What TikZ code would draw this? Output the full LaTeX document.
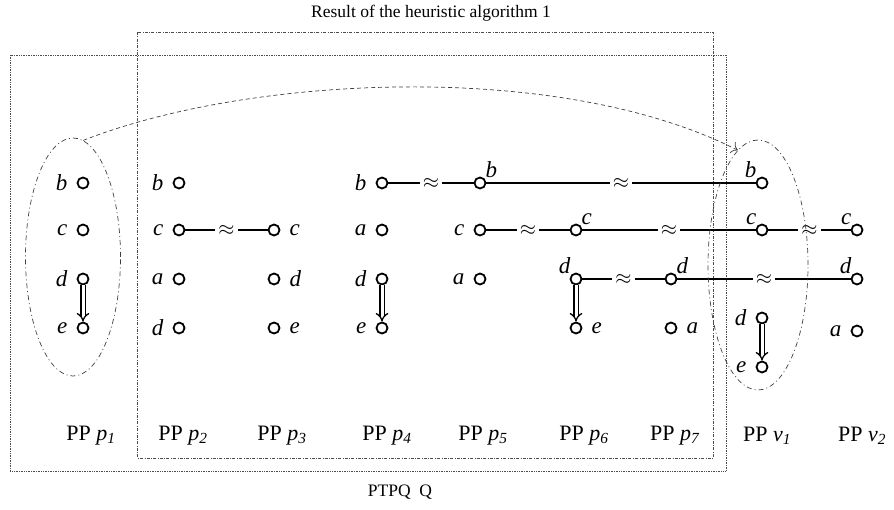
\documentclass[tikz,border=0pt]{standalone}
\usepackage{fontspec}
\setmainfont{Liberation Serif}
\usetikzlibrary{arrows.meta,positioning,shapes.geometric}

\begin{document}
\begin{tikzpicture}[x=1pt, y=-1pt,
        pt/.style={circle, draw, line width=1.8pt, minimum size=11pt, inner sep=0pt},
        lbl/.style={font=\fontsize{23}{25}\selectfont\itshape, inner sep=1pt},
        lt/.style={label={[lbl, label distance=8pt]left:#1}},
        rt/.style={label={[lbl, label distance=8pt]right:#1}},
        al/.style={label={[lbl, label distance=0pt]above left:#1}},
        ar/.style={label={[lbl, label distance=0pt]above right:#1}},
        link/.style={line width=1.4pt},
        apx/.style={fill=white, inner sep=3pt, font=\fontsize{21}{23}\selectfont},
        dbl/.style={double, double distance=3pt, line width=1.3pt, -{Implies}},
        pp/.style={font=\fontsize{22}{24}\selectfont},
        grp/.style={ellipse, draw, line width=0.7pt, black!75, dash pattern=on 5pt off 3pt on 1pt off 3pt},
        box/.style={line width=0.7pt, black!70}
    ]
    \useasboundingbox (0,0) rectangle (894,510);

    % Rahmen
    \draw[box, densely dotted] (10,55) rectangle (726,471);
    \draw[box, dash pattern=on 3pt off 1.5pt on 0.6pt off 1.5pt] (137,32) rectangle (713,458);
    \node[font=\fontsize{17.5}{19}\selectfont] (title) at (431,13) {Result of the heuristic algorithm 1};
    \node[font=\fontsize{17.5}{19}\selectfont] (ptpq) at (400,492) {PTPQ\ \ Q};

    % PP p1
    \node[pt, lt=b] (p1b) at (83,183) {};
    \node[pt, lt=c] (p1c) at (83,230) {};
    \node[pt, lt=d] (p1d) at (83,279) {};
    \node[pt, lt=e] (p1e) at (83,328) {};
    % PP p2
    \node[pt, lt=b] (p2b) at (179,183) {};
    \node[pt, lt=c] (p2c) at (179,230) {};
    \node[pt, lt=a] (p2a) at (179,279) {};
    \node[pt, lt=d] (p2d) at (179,328) {};
    % PP p3
    \node[pt, rt=c] (p3c) at (274,230) {};
    \node[pt, rt=d] (p3d) at (274,279) {};
    \node[pt, rt=e] (p3e) at (274,328) {};
    % PP p4
    \node[pt, lt=b] (p4b) at (382,183) {};
    \node[pt, lt=a] (p4a) at (382,230) {};
    \node[pt, lt=d] (p4d) at (382,279) {};
    \node[pt, lt=e] (p4e) at (382,328) {};
    % PP p5
    \node[pt, ar=b] (p5b) at (480,183) {};
    \node[pt, lt=c] (p5c) at (480,230) {};
    \node[pt, lt=a] (p5a) at (480,279) {};
    % PP p6
    \node[pt, ar=c] (p6c) at (576,230) {};
    \node[pt, al=d] (p6d) at (576,279) {};
    \node[pt, rt=e] (p6e) at (576,328) {};
    % PP p7
    \node[pt, ar=d] (p7d) at (671,279) {};
    \node[pt, rt=a] (p7a) at (671,328) {};
    % PP v1
    \node[pt, al=b] (v1b) at (762,183) {};
    \node[pt, al=c] (v1c) at (762,230) {};
    \node[pt, lt=d] (v1d) at (762,318) {};
    \node[pt, lt=e] (v1e) at (762,367) {};
    % PP v2
    \node[pt, al=c] (v2c) at (857,230) {};
    \node[pt, al=d] (v2d) at (857,279) {};
    \node[pt, lt=a] (v2a) at (857,331) {};

    % Verbindungen
    \draw[link] (p4b) -- node[apx] {$\approx$} (p5b);
    \draw[link] (p5b) -- node[apx] {$\approx$} (v1b);
    \draw[link] (p2c) -- node[apx] {$\approx$} (p3c);
    \draw[link] (p5c) -- node[apx] {$\approx$} (p6c);
    \draw[link] (p6c) -- node[apx] {$\approx$} (v1c);
    \draw[link] (v1c) -- node[apx] {$\approx$} (v2c);
    \draw[link] (p6d) -- node[apx] {$\approx$} (p7d);
    \draw[link] (p7d) -- node[apx] {$\approx$} (v2d);

    % Doppelpfeile
    \draw[dbl] (p1d) -- (p1e);
    \draw[dbl] (p4d) -- (p4e);
    \draw[dbl] (p6d) -- (p6e);
    \draw[dbl] (v1d) -- (v1e);

    % Gruppen
    \node[grp, minimum width=95pt, minimum height=238pt] (grpP) at (73,257) {};
    \node[grp, minimum width=100pt, minimum height=250pt] (grpV) at (758,265) {};
    \draw[line width=0.7pt, black!75, dash pattern=on 4pt off 3pt, -{To[length=6pt]}]
        (grpP.85) .. controls (250,75) and (560,60) .. (grpV.100);

    % Beschriftungen
    \node[pp] (n1) at (91,436) {PP \textit{p}\textsubscript{\textit{1}}};
    \node[pp] (n2) at (183,436) {PP \textit{p}\textsubscript{\textit{2}}};
    \node[pp] (n3) at (282,436) {PP \textit{p}\textsubscript{\textit{3}}};
    \node[pp] (n4) at (387,436) {PP \textit{p}\textsubscript{\textit{4}}};
    \node[pp] (n5) at (483,436) {PP \textit{p}\textsubscript{\textit{5}}};
    \node[pp] (n6) at (584,436) {PP \textit{p}\textsubscript{\textit{6}}};
    \node[pp] (n7) at (675,436) {PP \textit{p}\textsubscript{\textit{7}}};
    \node[pp] (m1) at (767,436) {PP \textit{v}\textsubscript{\textit{1}}};
    \node[pp] (m2) at (862,436) {PP \textit{v}\textsubscript{\textit{2}}};

\end{tikzpicture}
\end{document}
